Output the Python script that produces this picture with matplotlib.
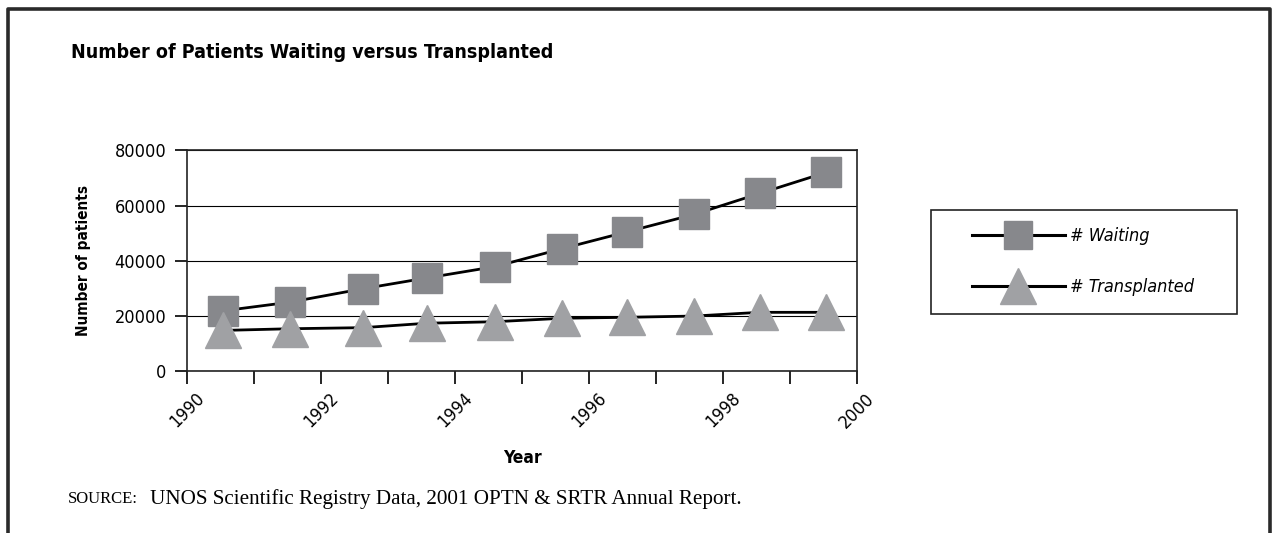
import matplotlib.pyplot as plt
from matplotlib.patches import Rectangle
from matplotlib.lines import Line2D

years = [1990.54, 1991.53, 1992.63, 1993.58, 1994.6, 1995.6, 1996.57, 1997.57, 1998.55, 1999.54]
waiting = [21900, 25000, 29900, 33800, 37900, 44400, 50500, 56800, 64400, 72000]
transplanted = [14800, 15400, 15800, 17400, 17950, 19200, 19550, 20000, 21350, 21350]

tick_years = list(range(1990, 2001))
tick_labels = [str(y) if y % 2 == 0 else '' for y in tick_years]
y_ticks = [0, 20000, 40000, 60000, 80000]

W, H = 1274, 533
narrow = dict(family='DejaVu Sans', stretch='condensed')

fig = plt.figure(figsize=(W / 100, H / 100), dpi=100)
ax = fig.add_axes([187 / W, 1 - 371.3 / H, 670 / W, 221 / H])

ax.plot(years, waiting, color='black', lw=2, marker='s', ms=22,
        mfc='#87888c', mec='#87888c', label='# Waiting', zorder=3)
ax.plot(years, transplanted, color='black', lw=2, marker='^', ms=26,
        mfc='#a0a1a4', mec='#a0a1a4', label='# Transplanted', zorder=3)

ax.set_xlim(1990, 2000)
ax.set_ylim(0, 80000)
ax.set_xticks(tick_years)
ax.set_xticklabels(tick_labels, rotation=45, ha='center', va='top', fontsize=13, **narrow)
ax.set_yticks(y_ticks)
ax.set_yticklabels([str(v) for v in y_ticks], fontsize=13, **narrow)
ax.tick_params(axis='x', direction='out', length=9, width=1.2, pad=4)
ax.tick_params(axis='y', direction='out', length=9, width=1.2, pad=6)
ax.yaxis.grid(True, color='black', lw=0.8)
ax.set_axisbelow(True)
for s in ax.spines.values():
    s.set_linewidth(1.2)
    s.set_color('#222222')

ax.set_ylabel('Number of patients', weight='bold', fontsize=11, labelpad=17, **narrow)
ax.set_xlabel('Year', weight='bold', fontsize=12.5, labelpad=13, **narrow)

# legend box
fig.patches.append(Rectangle((931 / W, 1 - 314 / H), 306 / W, 104 / H,
                             transform=fig.transFigure, fill=False,
                             edgecolor='#222222', lw=1.2))
handles = [
    Line2D([], [], color='black', lw=2.2, marker='s', ms=20, mfc='#87888c', mec='#87888c'),
    Line2D([], [], color='black', lw=2.2, marker='^', ms=26, mfc='#a0a1a4', mec='#a0a1a4'),
]
fig.legend(handles, ['# Waiting', '# Transplanted'], loc='upper left',
           bbox_to_anchor=(958 / W, 1 - 213 / H), frameon=False,
           prop=dict(style='italic', size=13, **narrow),
           handlelength=5.1, handletextpad=0.3, labelspacing=1.8, borderpad=0.3)

fig.text(71 / W, 1 - 52 / H, 'Number of Patients Waiting versus Transplanted',
         weight='bold', fontsize=14, va='center', ha='left', **narrow)

fig.text(68 / W, 1 - 499 / H, 'SOURCE:', family='Liberation Serif', fontsize=12,
         va='center', ha='left')
fig.text(150 / W, 1 - 499 / H, 'UNOS Scientific Registry Data, 2001 OPTN & SRTR Annual Report.',
         family='Liberation Serif', fontsize=15.2, va='center', ha='left')

# outer frame (top, left, right)
fig.lines.append(Line2D([8 / W, 8 / W, 1269.5 / W, 1269.5 / W],
                        [0, 1 - 9 / H, 1 - 9 / H, 0],
                        transform=fig.transFigure, color='#2a2a2a', lw=2.6))

fig.savefig('out.png', dpi=100)
